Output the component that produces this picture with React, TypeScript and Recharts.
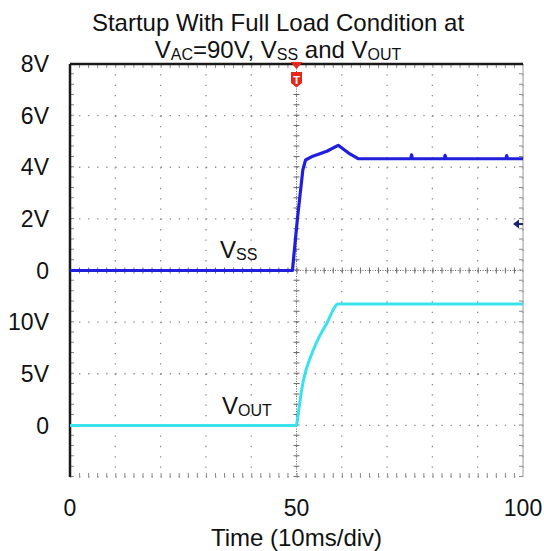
import React from "react";
import {
    LineChart,
    Line,
    XAxis,
    YAxis,
    CartesianGrid,
    ReferenceLine,
    ReferenceDot,
} from "recharts";

// time axis, 10 divisions of 10 (ms/div scaled to 0..100)
const timeTicks = [0, 10, 20, 30, 40, 50, 60, 70, 80, 90, 100];
const timeLabels = ["0", "", "", "", "", "50", "", "", "", "", "100"];

// left axis is the VSS scale (2V/div); VOUT labels sit on the lower half
const levelTicks = [-8, -6, -4, -2, 0, 2, 4, 6, 8];
const levelLabels = ["", "0", "5V", "10V", "0", "2V", "4V", "6V", "8V"];

// VSS trace (V)
const vssTime = [0, 49.1, 50.2, 51.4, 52.0, 53.6, 56.7, 59.2, 61.5, 63.6, 75.2, 75.4, 75.6, 82.6, 82.8, 83.0, 96.2, 96.4, 96.6, 100];
const vssVolts = [0, 0, 2.0, 3.9, 4.28, 4.43, 4.62, 4.85, 4.55, 4.33, 4.33, 4.48, 4.33, 4.33, 4.46, 4.33, 4.33, 4.45, 4.33, 4.33];

// VOUT trace (V)
const voutTime = [0, 49.9, 50.6, 51.2, 52.0, 53.0, 54.5, 56.7, 59.2, 100];
const voutVolts = [0, 0, 1.8, 3.6, 5.2, 6.5, 8.1, 9.9, 11.75, 11.75];

const vssData = vssTime.map((t, i) => ({ t, v: vssVolts[i] }));
const voutData = voutTime.map((t, i) => ({ t, v: voutVolts[i] }));

const FONT = "'Liberation Sans', Arial, Helvetica, sans-serif";
const GRID = "#8a8a8a";

const TriggerMark = (props: any) => {
    const { cx, cy } = props;
    return (
        <g>
            <polygon points={`${cx - 6},${cy - 2} ${cx + 6},${cy - 2} ${cx},${cy + 5}`} fill="#e8261c" />
            <path
                d={`M${cx - 5.5},${cy + 8} H${cx + 5.5} V${cy + 19} L${cx},${cy + 23.5} L${cx - 5.5},${cy + 19} Z`}
                fill="#e8261c"
            />
            <text x={cx} y={cy + 19.5} textAnchor="middle" fontSize={11} fontWeight="bold" fill="#fff" fontFamily={FONT}>
                T
            </text>
        </g>
    );
};

const LevelArrow = (props: any) => {
    const { cx, cy } = props;
    return (
        <g fill="#1b2470">
            <polygon points={`${cx - 10},${cy} ${cx - 4},${cy - 4.5} ${cx - 4},${cy + 4.5}`} />
            <rect x={cx - 5} y={cy - 1} width={5} height={2} />
        </g>
    );
};

const sub = { fontSize: 16, position: "relative" as const, top: 2 };

export default function App() {
    return (
        <div style={{ position: "absolute", left: 0, top: 0, width: 544, height: 551, background: "#fff" }}>
            <LineChart width={544} height={551} margin={{ top: 64, right: 21, bottom: 0, left: 0 }}>
                <CartesianGrid vertical={false} stroke={GRID} strokeWidth={1.3} strokeDasharray="1.3 7.76" />
                <CartesianGrid horizontal={false} stroke={GRID} strokeWidth={1.3} strokeDasharray="1.3 9.02" />

                <XAxis
                    dataKey="t"
                    type="number"
                    domain={[0, 100]}
                    ticks={timeTicks}
                    interval={0}
                    tickFormatter={(v: number) => timeLabels[timeTicks.indexOf(v)]}
                    tick={{ fontSize: 23, fill: "#111", fontFamily: FONT }}
                    tickLine={false}
                    axisLine={false}
                    tickSize={0}
                    tickMargin={23}
                    height={74}
                    label={{
                        value: "Time (10ms/div)",
                        position: "insideBottom",
                        offset: 5,
                        style: { fontSize: 24, fill: "#111", fontFamily: FONT },
                    }}
                />
                <YAxis
                    type="number"
                    domain={[-8, 8]}
                    ticks={levelTicks}
                    interval={0}
                    tickFormatter={(v: number) => levelLabels[levelTicks.indexOf(v)]}
                    tick={{ fontSize: 23, fill: "#111", fontFamily: FONT }}
                    tickLine={false}
                    axisLine={false}
                    tickSize={0}
                    tickMargin={21}
                    width={70}
                    allowDataOverflow
                />
                <YAxis yAxisId="out" type="number" domain={[-5, 35]} hide allowDataOverflow />

                {/* centre cross-hair with minor ticks */}
                <ReferenceLine x={50} stroke="#6a6a6a" strokeDasharray="1 1.5" />
                <ReferenceLine x={50} stroke="#6a6a6a" strokeWidth={6} strokeDasharray="1 9.325" />
                <ReferenceLine y={0} stroke="#6a6a6a" strokeDasharray="1 1.5" />
                <ReferenceLine y={0} stroke="#6a6a6a" strokeWidth={6} strokeDasharray="1 8.06" />

                {/* minor ticks along the frame */}
                <ReferenceLine x={0} stroke={GRID} strokeWidth={8} strokeDasharray="1 9.325" ifOverflow="hidden" />
                <ReferenceLine x={100} stroke={GRID} strokeWidth={8} strokeDasharray="1 9.325" ifOverflow="hidden" />
                <ReferenceLine y={8} stroke={GRID} strokeWidth={8} strokeDasharray="1 8.06" ifOverflow="hidden" />
                <ReferenceLine y={-8} stroke={GRID} strokeWidth={8} strokeDasharray="1 8.06" ifOverflow="hidden" />

                {/* frame */}
                <ReferenceLine x={100} stroke="#9a9a9a" strokeWidth={1} />
                <ReferenceLine x={0} stroke="#1a1a1a" strokeWidth={2.5} />
                <ReferenceLine y={8} stroke="#1a1a1a" strokeWidth={2.5} />

                <Line
                    data={voutData}
                    yAxisId="out"
                    dataKey="v"
                    type="monotone"
                    stroke="#3ae2ee"
                    strokeWidth={3}
                    dot={false}
                    isAnimationActive={false}
                />
                <Line
                    data={vssData}
                    dataKey="v"
                    type="linear"
                    stroke="#1f1fdc"
                    strokeWidth={3.2}
                    strokeLinejoin="round"
                    dot={false}
                    isAnimationActive={false}
                />

                <ReferenceDot x={50} y={8} r={0} shape={TriggerMark} />
                <ReferenceDot x={100} y={1.8} r={0} shape={LevelArrow} />
            </LineChart>

            <div
                style={{
                    position: "absolute",
                    left: 6,
                    top: 9,
                    width: 544,
                    textAlign: "center",
                    fontFamily: FONT,
                    fontSize: 24,
                    lineHeight: "27px",
                    color: "#111",
                }}
            >
                <div>Startup With Full Load Condition at</div>
                <div>
                    V<span style={sub}>AC</span>=90V, V<span style={sub}>SS</span> and V<span style={sub}>OUT</span>
                </div>
            </div>

            <div style={{ position: "absolute", left: 220, top: 238, fontFamily: FONT, fontSize: 24, lineHeight: "24px", color: "#111", whiteSpace: "nowrap" }}>
                V<span style={sub}>SS</span>
            </div>
            <div style={{ position: "absolute", left: 222, top: 394, fontFamily: FONT, fontSize: 24, lineHeight: "24px", color: "#111", whiteSpace: "nowrap" }}>
                V<span style={sub}>OUT</span>
            </div>
        </div>
    );
}
